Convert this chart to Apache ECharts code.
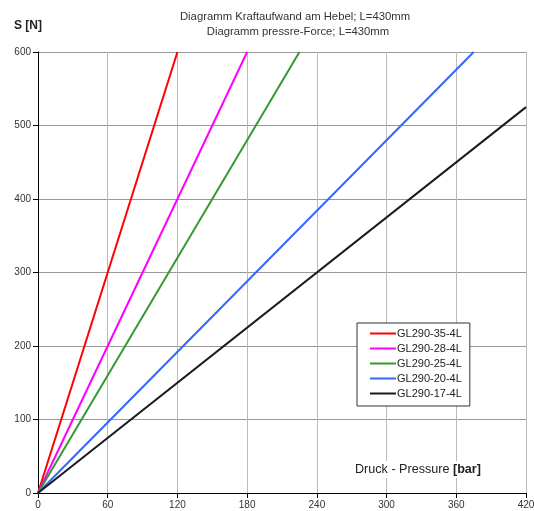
<!DOCTYPE html>
<html><head><meta charset="utf-8">
<script src="https://cdn.jsdelivr.net/npm/echarts@6/dist/echarts.min.js"></script>
<style>html,body{margin:0;padding:0;background:#fff;overflow:hidden}#c{width:534px;height:511px}</style>
</head><body><div id="c"></div>
<script>
const seriesNames = ['GL290-35-4L','GL290-28-4L','GL290-25-4L','GL290-20-4L','GL290-17-4L'];
const seriesColors = ['#ff0000','#ff00ff','#339933','#3366ff','#1a1a1a'];
const endPressure = [120, 180, 225, 375, 420];
const endForce = [600, 600, 600, 600, 525];
const xTicks = [0,60,120,180,240,300,360,420];
const yTicks = [0,100,200,300,400,500,600];

const chart = echarts.init(document.getElementById('c'));
const series = seriesNames.map((n,i)=>({
  name:n, type:'line', symbol:'none', animation:false,
  data:[[0,0],[endPressure[i],endForce[i]]],
  lineStyle:{color:seriesColors[i],width:2}, itemStyle:{color:seriesColors[i]}
}));
const F = 'Liberation Sans, Arial';
chart.setOption({
  animation:false,
  grid:{left:38,right:8,top:52,bottom:18,containLabel:false,outerBoundsMode:'none'},
  legend:{orient:'vertical',left:357,top:323,width:113,
    backgroundColor:'#fff',borderColor:'#333',borderWidth:1,padding:[5,8,7,13],
    itemGap:4,itemWidth:26,itemHeight:2,icon:'rect',
    textStyle:{fontFamily:F,fontSize:11,color:'#222',padding:[0,0,0,-4]},
    data:seriesNames},
  xAxis:{type:'value',min:0,max:420,interval:60,
    axisLine:{lineStyle:{color:'#000',width:1}},
    axisTick:{show:true,length:5,lineStyle:{color:'#000'}},
    axisLabel:{fontFamily:F,fontSize:10,color:'#333',margin:7},
    splitLine:{show:true,lineStyle:{color:'#bbb',width:1}}},
  yAxis:{type:'value',min:0,max:600,interval:100,
    axisLine:{show:true,lineStyle:{color:'#000',width:1}},
    axisTick:{show:true,length:5,lineStyle:{color:'#000'}},
    axisLabel:{fontFamily:F,fontSize:10,color:'#333',margin:7},
    splitLine:{show:true,lineStyle:{color:'#999',width:1}}},
  graphic:[
    {type:'text',x:295,y:11,style:{text:'Diagramm Kraftaufwand am Hebel; L=430mm',textAlign:'center',fontFamily:F,fontSize:11.3,fill:'#333'}},
    {type:'text',x:298,y:26,style:{text:'Diagramm pressre-Force; L=430mm',textAlign:'center',fontFamily:F,fontSize:11.3,fill:'#333'}},
    {type:'text',left:14,top:20,style:{text:'S [N]',fontFamily:F,fontSize:12,fontWeight:'bold',fill:'#222'}},
    {type:'text',left:353,top:461,z:10,style:{backgroundColor:'#fff',padding:[2,2,2,2],rich:{
        a:{fontFamily:F,fontSize:12.6,fill:'#222'},
        b:{fontFamily:F,fontSize:12.6,fontWeight:'bold',fill:'#222'}},
      text:'{a|Druck - Pressure }{b|[bar]}'}}
  ],
  series:series
});
</script></body></html>
